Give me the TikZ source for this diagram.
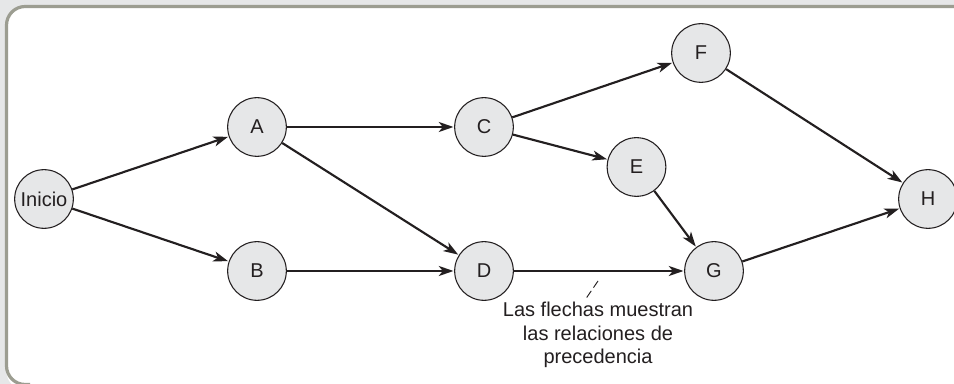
\documentclass[tikz,border=0pt]{standalone}
\usepackage{fontspec}
\setmainfont{Liberation Sans}
\usetikzlibrary{arrows.meta}
\definecolor{bggrey}{HTML}{E6E7E8}
\definecolor{framegrey}{HTML}{9C9D91}
\definecolor{nodefill}{HTML}{E6E7E8}
\definecolor{ink}{HTML}{231F20}
\begin{document}
\begin{tikzpicture}[x=0.75pt,y=-0.75pt,
  actnode/.style={circle,draw=ink,line width=0.8pt,fill=nodefill,minimum size=44pt,inner sep=0pt,font=\fontsize{15}{17}\selectfont,text=ink},
  arr/.style={draw=ink,line width=1.6pt,-{Stealth[length=11pt,width=7.5pt,inset=3pt]},shorten >=0.5pt},
  lbl/.style={font=\fontsize{15}{17.5}\selectfont,text=ink,align=center}]
\useasboundingbox (0,0) rectangle (954,384);
\fill[bggrey] (0,0) rectangle (954,384);
\fill[white,rounded corners=14pt] (6.5,390) -- (6.5,6.5) -- (970,6.5) -- (970,390) -- cycle;
\draw[framegrey,line width=2.4pt,rounded corners=14pt] (30,384.5) -- (6.5,384.5) -- (6.5,6.5) -- (954,6.5);
\node[actnode] (ini) at (44,199) {Inicio};
\node[actnode] (A) at (257,127) {A};
\node[actnode] (B) at (257,271) {B};
\node[actnode] (C) at (484,127) {C};
\node[actnode] (D) at (484,271) {D};
\node[actnode] (E) at (636.5,167) {E};
\node[actnode] (F) at (701,53) {F};
\node[actnode] (G) at (714,271) {G};
\node[actnode] (H) at (928,199) {H};
\draw[arr] (ini) -- (A);
\draw[arr] (ini) -- (B);
\draw[arr] (A) -- (C);
\draw[arr] (A) -- (D);
\draw[arr] (B) -- (D);
\draw[arr] (C) -- (F);
\draw[arr] (C) -- (E);
\draw[arr] (E) -- (G);
\draw[arr] (D) -- (G);
\draw[arr] (F) -- (H);
\draw[arr] (G) -- (H);
\node[lbl] (note) at (598,335) {Las flechas muestran\\las relaciones de\\precedencia};
\coordinate (lead1) at (598,281);
\coordinate (lead2) at (585,300);
\draw[ink,line width=0.7pt,dash pattern=on 6pt off 3pt] (lead1) -- (lead2);
\end{tikzpicture}
\end{document}
